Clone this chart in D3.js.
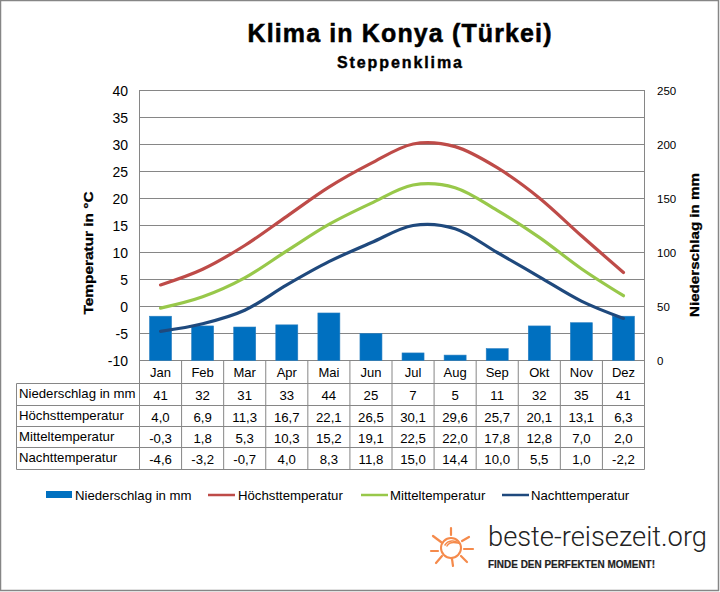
<!DOCTYPE html>
<html>
<head>
<meta charset="utf-8">
<script src="https://cdnjs.cloudflare.com/ajax/libs/d3/7.8.5/d3.min.js"></script>
<style>
    html, body { margin: 0; padding: 0; background: #fff; }
    svg { display: block; }
    text { font-family: "Liberation Sans", Arial, sans-serif; fill: #000; }
</style>
</head>
<body>
<svg id="chart" width="720" height="592"></svg>
<script>
var months = ["Jan", "Feb", "Mar", "Apr", "Mai", "Jun", "Jul", "Aug", "Sep", "Okt", "Nov", "Dez"];
var niederschlag = [41, 32, 31, 33, 44, 25, 7, 5, 11, 32, 35, 41];
var hoechst = [4.0, 6.9, 11.3, 16.7, 22.1, 26.5, 30.1, 29.6, 25.7, 20.1, 13.1, 6.3];
var mittel = [-0.3, 1.8, 5.3, 10.3, 15.2, 19.1, 22.5, 22.0, 17.8, 12.8, 7.0, 2.0];
var nacht = [-4.6, -3.2, -0.7, 4.0, 8.3, 11.8, 15.0, 14.4, 10.0, 5.5, 1.0, -2.2];
var tempTicks = [-10, -5, 0, 5, 10, 15, 20, 25, 30, 35, 40];
var rainTicks = [0, 50, 100, 150, 200, 250];

var rowNames = ["Niederschlag in mm", "Höchsttemperatur", "Mitteltemperatur", "Nachttemperatur"];
var rowValues = [niederschlag, hoechst, mittel, nacht];

var grey = "#868686";
var barColor = "#0070c0";
var redColor = "#be4b48";
var greenColor = "#98c84a";
var blueColor = "#1f497d";

var chart = d3.select("#chart");

var plotLeft = 139.5, plotRight = 644.5, plotTop = 90.5, plotBottom = 360.5;

var x = d3.scaleBand().domain(months).range([plotLeft, plotRight]);
var y = d3.scaleLinear().domain([-10, 40]).range([plotBottom, plotTop]);
var yRain = d3.scaleLinear().domain([0, 250]).range([plotBottom, plotTop]);

// outer border
chart.append("rect")
    .attr("x", 0.5).attr("y", 0.5)
    .attr("width", 718).attr("height", 590)
    .attr("fill", "#fff")
    .attr("stroke", grey)
    .attr("stroke-width", 1.5);

// titles
chart.append("text")
    .attr("x", 399.5).attr("y", 42)
    .attr("text-anchor", "middle")
    .style("font-size", "25px")
    .style("font-weight", "bold")
    .style("stroke", "#000")
    .style("stroke-width", 0.5)
    .attr("textLength", 304)
    .attr("lengthAdjust", "spacing")
    .text("Klima in Konya (Türkei)");

chart.append("text")
    .attr("x", 399.5).attr("y", 68)
    .attr("text-anchor", "middle")
    .style("font-size", "16px")
    .style("font-weight", "bold")
    .style("stroke", "#000")
    .style("stroke-width", 0.4)
    .attr("textLength", 125)
    .attr("lengthAdjust", "spacing")
    .text("Steppenklima");

// grid
chart.append("g").selectAll("line")
    .data(tempTicks)
    .enter().append("line")
    .attr("x1", plotLeft).attr("x2", plotRight)
    .attr("y1", function (d) { return y(d); })
    .attr("y2", function (d) { return y(d); })
    .attr("stroke", grey);

chart.append("rect")
    .attr("x", plotLeft).attr("y", plotTop)
    .attr("width", plotRight - plotLeft).attr("height", plotBottom - plotTop)
    .attr("fill", "none")
    .attr("stroke", grey);

// left axis
chart.append("g").selectAll("text")
    .data(tempTicks)
    .enter().append("text")
    .attr("x", 128)
    .attr("y", function (d) { return y(d) + 5; })
    .attr("text-anchor", "end")
    .style("font-size", "14px")
    .text(function (d) { return d; });

// right axis
chart.append("g").selectAll("text")
    .data(rainTicks)
    .enter().append("text")
    .attr("x", 657)
    .attr("y", function (d) { return yRain(d) + 4; })
    .style("font-size", "11.5px")
    .text(function (d) { return d; });

chart.append("text")
    .attr("transform", "translate(93,253) rotate(-90)")
    .attr("text-anchor", "middle")
    .style("font-size", "13.5px")
    .style("font-weight", "bold")
    .style("stroke", "#000")
    .style("stroke-width", 0.3)
    .attr("textLength", 123)
    .attr("lengthAdjust", "spacingAndGlyphs")
    .text("Temperatur in °C");

chart.append("text")
    .attr("transform", "translate(699,245) rotate(-90)")
    .attr("text-anchor", "middle")
    .style("font-size", "13.5px")
    .style("font-weight", "bold")
    .style("stroke", "#000")
    .style("stroke-width", 0.3)
    .attr("textLength", 144)
    .attr("lengthAdjust", "spacingAndGlyphs")
    .text("Niederschlag in  mm");

// bars
chart.append("g").selectAll("rect")
    .data(niederschlag)
    .enter().append("rect")
    .attr("x", function (d, i) { return x(months[i]) + x.bandwidth() / 2 - 11; })
    .attr("y", function (d) { return yRain(d); })
    .attr("width", 22)
    .attr("height", function (d) { return yRain(0) - yRain(d); })
    .attr("fill", barColor)
    .attr("stroke", "#2a7fc0")
    .attr("stroke-width", 0.6);

// lines
var line = d3.line().curve(d3.curveCardinal.tension(0))
    .x(function (d, i) { return x(months[i]) + x.bandwidth() / 2; })
    .y(function (d) { return y(d); });

[[hoechst, redColor], [mittel, greenColor], [nacht, blueColor]].forEach(function (s) {
    chart.append("path")
        .datum(s[0])
        .attr("fill", "none")
        .attr("stroke", s[1])
        .attr("stroke-width", 3.2)
        .attr("stroke-linecap", "round")
        .attr("d", line);
});

// month row under the plot
var rowY = [383.5, 405.5, 426.5, 447.5, 469.5];
var tableLeft = 16.5;

chart.append("g").selectAll("line")
    .data(d3.range(months.length + 1))
    .enter().append("line")
    .attr("x1", function (i) { return plotLeft + i * x.bandwidth(); })
    .attr("x2", function (i) { return plotLeft + i * x.bandwidth(); })
    .attr("y1", plotBottom).attr("y2", rowY[4])
    .attr("stroke", grey);

chart.append("line")
    .attr("x1", tableLeft).attr("x2", tableLeft)
    .attr("y1", rowY[0]).attr("y2", rowY[4])
    .attr("stroke", grey);

chart.append("g").selectAll("line")
    .data(rowY)
    .enter().append("line")
    .attr("x1", tableLeft).attr("x2", plotRight)
    .attr("y1", function (d) { return d; })
    .attr("y2", function (d) { return d; })
    .attr("stroke", grey);

chart.append("g").selectAll("text")
    .data(months)
    .enter().append("text")
    .attr("x", function (d) { return x(d) + x.bandwidth() / 2; })
    .attr("y", 377)
    .attr("text-anchor", "middle")
    .style("font-size", "13px")
    .text(function (d) { return d; });

// table
function fmt(r, v) {
    return r === 0 ? String(v) : v.toFixed(1).replace(".", ",");
}

rowNames.forEach(function (name, r) {
    chart.append("text")
        .attr("x", 19)
        .attr("y", rowY[r] + 14.5)
        .style("font-size", "13.2px")
        .text(name);

    chart.append("g").selectAll("text")
        .data(rowValues[r])
        .enter().append("text")
        .attr("x", function (d, i) { return x(months[i]) + x.bandwidth() / 2; })
        .attr("y", rowY[r] + 16)
        .attr("text-anchor", "middle")
        .style("font-size", "13.2px")
        .text(function (d) { return fmt(r, d); });
});

// legend
var legend = [
    {name: rowNames[0], color: barColor, bar: true, x: 46, tx: 75},
    {name: rowNames[1], color: redColor, x: 208, tx: 238},
    {name: rowNames[2], color: greenColor, x: 361, tx: 390},
    {name: rowNames[3], color: blueColor, x: 502, tx: 531}
];

legend.forEach(function (l) {
    if (l.bar) {
        chart.append("rect")
            .attr("x", l.x).attr("y", 491)
            .attr("width", 26).attr("height", 7)
            .attr("fill", l.color);
    } else {
        chart.append("line")
            .attr("x1", l.x).attr("x2", l.x + 27)
            .attr("y1", 495).attr("y2", 495)
            .attr("stroke", l.color)
            .attr("stroke-width", 2.5);
    }
    chart.append("text")
        .attr("x", l.tx).attr("y", 500)
        .style("font-size", "13.2px")
        .text(l.name);
});

// logo
var sun = chart.append("g")
    .attr("transform", "translate(451,548)")
    .attr("fill", "none")
    .attr("stroke", "#f58a4b")
    .attr("stroke-linecap", "round");

sun.append("circle").attr("r", 10).attr("stroke-width", 2);
sun.append("path").attr("d", "M-6,-3 C-3,-8 4,-8 7,-5 C3,-6 -2,-6 -4,-2").attr("stroke-width", 1.5);

var rays = [
    [0, -20, 0, -13], [11, -7, 18, -11], [13, 1, 22, 1], [10, 8, 16, 14],
    [1, 11, 2, 18], [-9, 8, -15, 15], [-20, 3, -13, 3], [-18, -12, -10, -6]
];
sun.selectAll("line")
    .data(rays)
    .enter().append("line")
    .attr("x1", function (d) { return d[0]; })
    .attr("y1", function (d) { return d[1]; })
    .attr("x2", function (d) { return d[2]; })
    .attr("y2", function (d) { return d[3]; })
    .attr("stroke-width", 2.2);

chart.append("text")
    .attr("x", 488).attr("y", 546)
    .style("font-family", "Roboto, sans-serif")
    .style("font-weight", 300)
    .style("font-size", "28px")
    .style("fill", "#222")
    .attr("textLength", 219)
    .attr("lengthAdjust", "spacingAndGlyphs")
    .text("beste-reisezeit.org");

chart.append("text")
    .attr("x", 488).attr("y", 568)
    .style("font-weight", "bold")
    .style("font-size", "10.5px")
    .style("fill", "#222")
    .style("stroke", "#222")
    .style("stroke-width", 0.2)
    .attr("textLength", 167)
    .attr("lengthAdjust", "spacingAndGlyphs")
    .text("FINDE DEN PERFEKTEN MOMENT!");
</script>
</body>
</html>
